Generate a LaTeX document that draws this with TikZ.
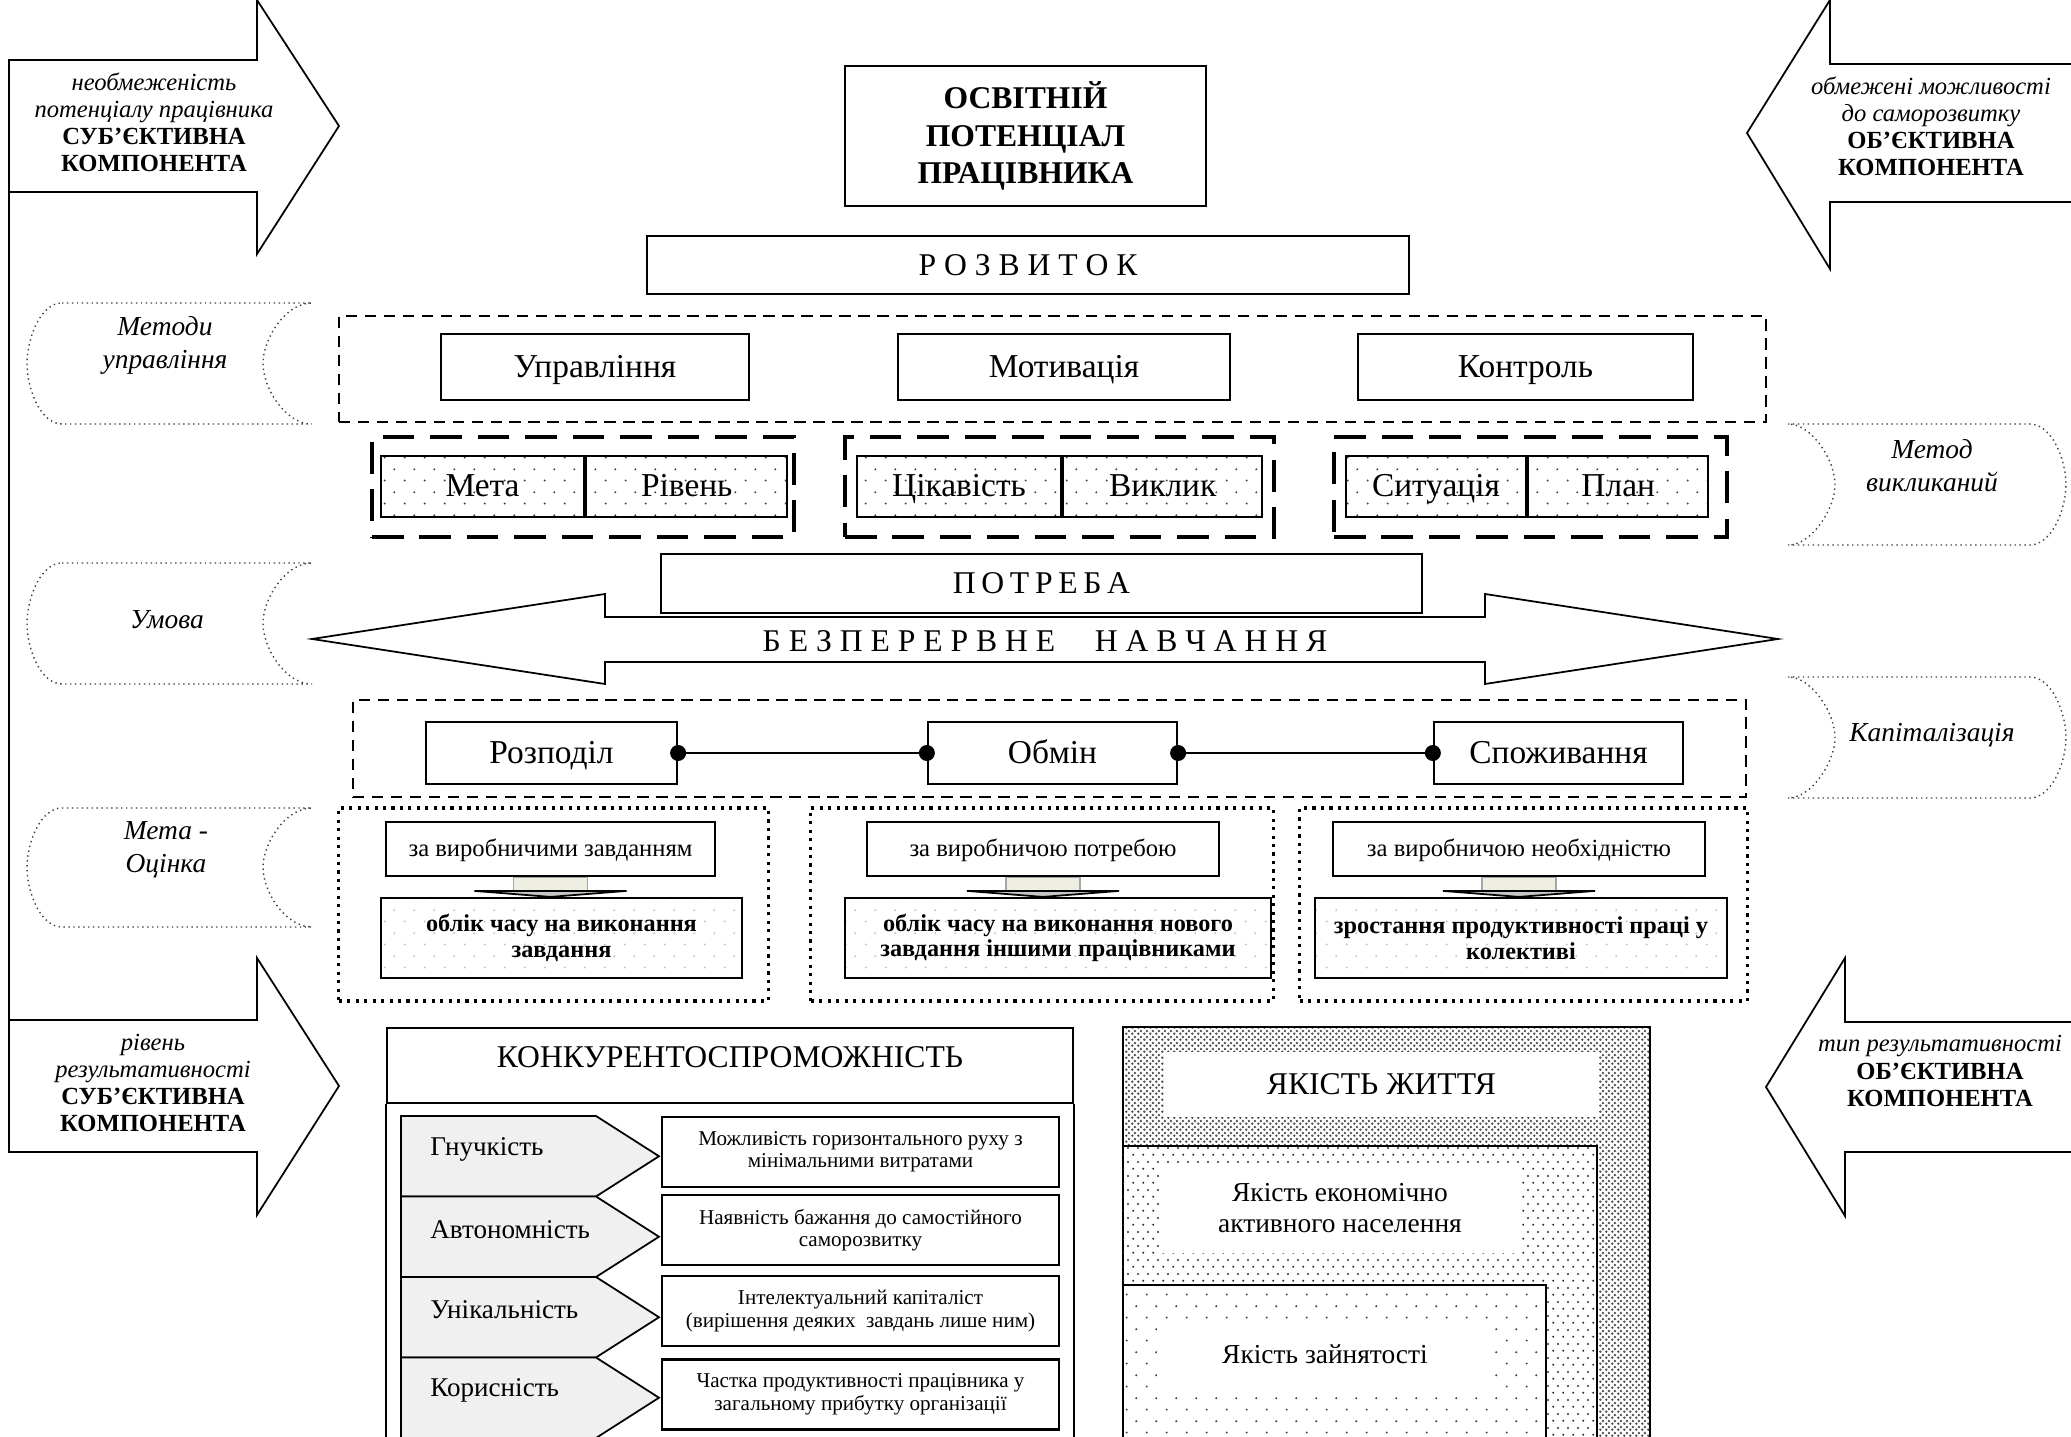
\documentclass[tikz,border=0pt]{standalone}
\usepackage{fontspec}
\setmainfont{Liberation Serif}
\usepackage{tikz}
\usetikzlibrary{calc, patterns.meta}

\tikzdeclarepattern{
  name=sparsedots,
  bounding box={(0pt,0pt) and (5.7pt,6.6pt)},
  tile size={(5.7pt,6.6pt)},
  code={
    \fill (1.4pt,1.6pt) circle (0.32pt);
    \fill (4.25pt,4.9pt) circle (0.32pt);
  }
}
\tikzdeclarepattern{
  name=middots,
  bounding box={(0pt,0pt) and (2.9pt,4pt)},
  tile size={(2.9pt,4pt)},
  code={
    \fill (0.7pt,1pt) circle (0.34pt);
    \fill (2.15pt,3pt) circle (0.34pt);
  }
}
\tikzdeclarepattern{
  name=densedots,
  bounding box={(0pt,0pt) and (1.6pt,1.6pt)},
  tile size={(1.6pt,1.6pt)},
  code={
    \fill (0.4pt,0.4pt) circle (0.4pt);
    \fill (1.2pt,1.2pt) circle (0.4pt);
  }
}

\definecolor{shaftcol}{HTML}{EEEEE2}

% stored-data tabs on the left and on the right
\newcommand{\tableft}[2]{%
  \draw[tabline] (62,#1) -- (312,#1)
    .. controls (285,#1) and (263,{#1+0.3*(#2-#1)}) .. (263,{(#1+#2)/2})
    .. controls (263,{#2-0.3*(#2-#1)}) and (285,#2) .. (312,#2)
    -- (62,#2)
    .. controls (40,#2) and (27,{#2-0.3*(#2-#1)}) .. (27,{(#1+#2)/2})
    .. controls (27,{#1+0.3*(#2-#1)}) and (40,#1) .. (62,#1);
}
\newcommand{\tabright}[2]{%
  \draw[tabline] (1788,#1) -- (2030,#1)
    .. controls (2052,#1) and (2066,{#1+0.3*(#2-#1)}) .. (2066,{(#1+#2)/2})
    .. controls (2066,{#2-0.3*(#2-#1)}) and (2052,#2) .. (2030,#2)
    -- (1788,#2)
    .. controls (1812,#2) and (1835,{#2-0.3*(#2-#1)}) .. (1835,{(#1+#2)/2})
    .. controls (1835,{#1+0.3*(#2-#1)}) and (1812,#1) .. (1788,#1);
}
% small block arrow between two boxes
\newcommand{\evalarrow}[2]{%
  \filldraw[fill=shaftcol, draw=gray!70, line width=0.3pt] ($(#1.south)+(-37,0)$) rectangle ($(#1.south |- #2.north)+(37,-6)$);
  \filldraw[fill=gray!45, draw=black, line width=0.5pt] ($(#1.south |- #2.north)+(-76,-6)$) -- ($(#1.south |- #2.north)+(76,-6)$) -- (#1.south |- #2.north) -- cycle;
}

\begin{document}
\begin{tikzpicture}[x=0.01cm, y=-0.01cm,
    frame/.style={draw, line width=0.6pt, inner sep=1pt, align=center, font=\fontsize{9.5pt}{11pt}\selectfont},
    box/.style={frame, fill=white},
    oneline/.style={text height=7.9pt, text depth=2.1pt},
    spaced/.style={font=\fontsize{9pt}{11pt}\selectfont},
    dashgrp/.style={draw, line width=0.6pt, dash pattern=on 3.2pt off 2.2pt, inner sep=0pt},
    longdash/.style={draw, line width=1.1pt, dash pattern=on 9pt off 4.5pt, inner sep=0pt},
    dotgrp/.style={draw, line width=0.9pt, dash pattern=on 0.9pt off 1.5pt, inner sep=0pt},
    pairbox/.style={frame, oneline, pattern=sparsedots, pattern color=black!75},
    small/.style={box, text height=5.8pt, text depth=1.4pt, font=\fontsize{7pt}{8.2pt}\selectfont},
    result/.style={frame, pattern=sparsedots, pattern color=black!22, font=\fontsize{6.9pt}{7.3pt}\selectfont\bfseries},
    tiny/.style={box, font=\fontsize{6pt}{6.4pt}\selectfont},
    side/.style={align=center, font=\fontsize{7pt}{7.7pt}\selectfont},
    tabline/.style={line width=0.4pt, densely dotted, black!75},
    tabtxt/.style={align=center, font=\fontsize{7.8pt}{9.4pt}\selectfont\itshape},
    arrline/.style={line width=0.5pt},
    link/.style={line width=0.8pt},
    jdot/.style={circle, fill, inner sep=0pt, minimum size=0.16cm},
    chev/.style={draw, line width=0.5pt, fill=gray!12},
    chevtxt/.style={font=\fontsize{7.7pt}{9pt}\selectfont},
    quality/.style={inner sep=0pt, fill=white, align=center, font=\fontsize{7.8pt}{8.6pt}\selectfont}]
    \useasboundingbox (0,0) rectangle (2071,1437);
    \clip (0,0) rectangle (2071,1437);

    % Side arrows
    \draw[arrline] (9,60) -- (257,60) -- (257,0) -- (339,126) -- (257,254) -- (257,192) -- (9,192) -- cycle;
    \draw[arrline] (9,1020) -- (257,1020) -- (257,958) -- (339,1086) -- (257,1215) -- (257,1152) -- (9,1152) -- cycle;
    \draw[arrline] (9,192) -- (9,1020);
    \draw[arrline] (2080,64) -- (1830,64) -- (1830,0) -- (1747,133) -- (1830,269) -- (1830,202) -- (2080,202);
    \draw[arrline] (2080,1022) -- (1845,1022) -- (1845,958) -- (1766,1087) -- (1845,1216) -- (1845,1152) -- (2080,1152);
    \node[side] (sa1) at (154,122) {\textit{необмеженість}\\\textit{потенціалу працівника}\\\textbf{СУБ’ЄКТИВНА}\\\textbf{КОМПОНЕНТА}};
    \node[side] (sa2) at (1931,126) {\textit{обмежені можливості}\\\textit{до саморозвитку}\\\textbf{ОБ’ЄКТИВНА}\\\textbf{КОМПОНЕНТА}};
    \node[side] (sa3) at (153,1083) {\textit{рівень}\\\textit{результативності}\\\textbf{СУБ’ЄКТИВНА}\\\textbf{КОМПОНЕНТА}};
    \node[side] (sa4) at (1940,1071) {\textit{тип результативності}\\\textbf{ОБ’ЄКТИВНА}\\\textbf{КОМПОНЕНТА}};

    % Tabs
    \tableft{303}{424}
    \tableft{563}{684}
    \tableft{808}{927}
    \tabright{424}{545}
    \tabright{677}{798}
    \node[tabtxt] (t1) at (165,345) {Методи\\управління};
    \node[tabtxt] (t2) at (167,620) {Умова};
    \node[tabtxt] (t3) at (166,850) {Мета -\\Оцінка};
    \node[tabtxt] (t4) at (1932,466) {Метод\\викликаний};
    \node[tabtxt] (t5) at (1932,735) {Капіталізація};

    % Top
    \node[box, minimum width=3.61cm, minimum height=1.40cm, font=\fontsize{9pt}{10.7pt}\selectfont\bfseries] (title) at (1025.5,136) {ОСВІТНІЙ\\ПОТЕНЦІАЛ\\ПРАЦІВНИКА};
    \node[box, oneline, minimum width=7.62cm, minimum height=0.58cm, spaced] (rozv) at (1028,265) {Р О З В И Т О К};

    \node[dashgrp, minimum width=14.27cm, minimum height=1.06cm] (grp1) at (1052.5,369) {};
    \node[box, oneline, minimum width=3.08cm, minimum height=0.66cm] (upr) at (595,367) {Управління};
    \node[box, oneline, minimum width=3.32cm, minimum height=0.66cm] (motyv) at (1064,367) {Мотивація};
    \node[box, oneline, minimum width=3.35cm, minimum height=0.66cm] (kontr) at (1525.5,367) {Контроль};

    % Pairs
    \node[longdash, minimum width=4.22cm, minimum height=1.00cm] (pg1) at (583,487) {};
    \node[longdash, minimum width=4.29cm, minimum height=1.00cm] (pg2) at (1059.5,487) {};
    \node[longdash, minimum width=3.93cm, minimum height=1.00cm] (pg3) at (1530.5,487) {};
    \node[pairbox, minimum width=2.03cm, minimum height=0.61cm] (meta) at (482.5,486.5) {Мета};
    \node[pairbox, minimum width=2.01cm, minimum height=0.61cm, anchor=west] (riven) at (meta.east) {Рівень};
    \node[pairbox, minimum width=2.04cm, minimum height=0.61cm] (cikav) at (959,486.5) {Цікавість};
    \node[pairbox, minimum width=1.99cm, minimum height=0.61cm, anchor=west] (vyklyk) at (cikav.east) {Виклик};
    \node[pairbox, minimum width=1.80cm, minimum height=0.61cm] (sytu) at (1436,486.5) {Ситуація};
    \node[pairbox, minimum width=1.80cm, minimum height=0.61cm, anchor=west] (plan) at (sytu.east) {План};

    % Need and learning
    \draw[arrline] (312,639) -- (605,594) -- (605,617) -- (1485,617) -- (1485,594) -- (1778,639)
        -- (1485,684) -- (1485,662) -- (605,662) -- (605,684) -- cycle;
    \node[box, oneline, minimum width=7.61cm, minimum height=0.59cm, spaced] (potreba) at (1041.5,583.5) {П\hspace{0.18em}О\hspace{0.18em}Т\hspace{0.18em}Р\hspace{0.18em}Е\hspace{0.18em}Б\hspace{0.18em}А};
    \node[spaced] (navch) at (1045,641) {Б Е З П Е Р Е Р В Н Е \quad Н А В Ч А Н Н Я};

    % Distribution
    \node[dashgrp, minimum width=13.93cm, minimum height=0.97cm] (grp2) at (1049.5,748.5) {};
    \node[box, oneline, minimum width=2.51cm, minimum height=0.62cm] (rozp) at (551.5,753) {Розподіл};
    \node[box, oneline, minimum width=2.49cm, minimum height=0.62cm] (obmin) at (1052.5,753) {Обмін};
    \node[box, oneline, minimum width=2.49cm, minimum height=0.62cm] (spoz) at (1558.5,753) {Споживання};
    \draw[link] (rozp.east) -- (obmin.west);
    \draw[link] (obmin.east) -- (spoz.west);
    \foreach \a [count=\i] in {rozp.east, obmin.west, obmin.east, spoz.west}
        \node[jdot] (dot\i) at (\a) {};

    % Evaluation
    \node[dotgrp, minimum width=4.29cm, minimum height=1.93cm] (ev1) at (553.5,904.5) {};
    \node[dotgrp, minimum width=4.62cm, minimum height=1.93cm] (ev2) at (1042,904.5) {};
    \node[dotgrp, minimum width=4.47cm, minimum height=1.93cm] (ev3) at (1523.5,904.5) {};
    \node[small, minimum width=3.29cm, minimum height=0.54cm] (z1) at (550.5,849) {за виробничими завданням};
    \node[small, minimum width=3.52cm, minimum height=0.54cm] (z2) at (1043,849) {за виробничою потребою};
    \node[small, minimum width=3.72cm, minimum height=0.54cm] (z3) at (1519,849) {за виробничою необхідністю};
    \node[result, minimum width=3.61cm, minimum height=0.80cm] (o1) at (561.5,938) {облік часу на виконання\\завдання};
    \node[result, minimum width=4.26cm, minimum height=0.80cm] (o2) at (1058,938) {облік часу на виконання нового\\завдання іншими працівниками};
    \node[result, minimum width=4.12cm, minimum height=0.80cm] (o3) at (1521,938) {зростання продуктивності праці у\\колективі};
    \evalarrow{z1}{o1}
    \evalarrow{z2}{o2}
    \evalarrow{z3}{o3}

    % Competitiveness
    \node[box, minimum width=6.86cm, minimum height=0.75cm, text height=6.5pt, text depth=5.5pt, font=\fontsize{9pt}{11pt}\selectfont] (konk) at (730,1065.5) {КОНКУРЕНТОСПРОМОЖНІСТЬ};
    \draw[line width=0.6pt] (konk.south west) -- ++(0,400);
    \draw[line width=0.6pt] (konk.south east) -- ++(0,400);
    \foreach \i/\y/\t in {1/1116/Гнучкість, 2/1196.5/Автономність, 3/1277/Унікальність, 4/1357.5/Корисність} {
        \draw[chev] (401,\y) -- (596,\y) -- (659,{\y+40.25}) -- (596,{\y+80.5}) -- (401,{\y+80.5}) -- cycle;
        \node[chevtxt, anchor=west] (k\i) at (418,{\y+33}) {\t};
    }
    \foreach \i/\y/\t in {1/1152/{Можливість горизонтального руху з\\мінімальними витратами},
                          2/1230/{Наявність бажання до самостійного\\саморозвитку},
                          3/1311/{Інтелектуальний капіталіст\\(вирішення деяких \ завдань лише ним)},
                          4/1394.5/{Частка продуктивності працівника у\\загальному прибутку організації}}
        \node[tiny, minimum width=3.97cm, minimum height=0.70cm] (p\i) at (860.5,\y) {\t};

    % Quality of life
    \draw[line width=0.6pt, pattern=densedots, pattern color=black!70] (1123,1027) rectangle (1650,1460);
    \node[quality, oneline, minimum width=4.35cm, minimum height=0.65cm, font=\fontsize{9pt}{11pt}\selectfont] (yak) at (1381.5,1084.5) {ЯКІСТЬ ЖИТТЯ};
    \filldraw[fill=white, line width=0.6pt] (1123,1146) rectangle (1597,1460);
    \path[pattern=middots, pattern color=black!80] (1123,1146) rectangle (1597,1460);
    \node[quality, minimum width=3.58cm, minimum height=0.90cm] (yak2) at (1340,1208) {Якість економічно\\активного населення};
    \filldraw[fill=white, line width=0.6pt] (1123,1285) rectangle (1546,1460);
    \path[pattern=sparsedots, pattern color=black!75] (1123,1285) rectangle (1546,1460);
    \node[quality, text height=6.5pt, text depth=1.7pt, minimum width=3.36cm, minimum height=0.66cm] (yak3) at (1325,1355) {Якість зайнятості};
\end{tikzpicture}
\end{document}
